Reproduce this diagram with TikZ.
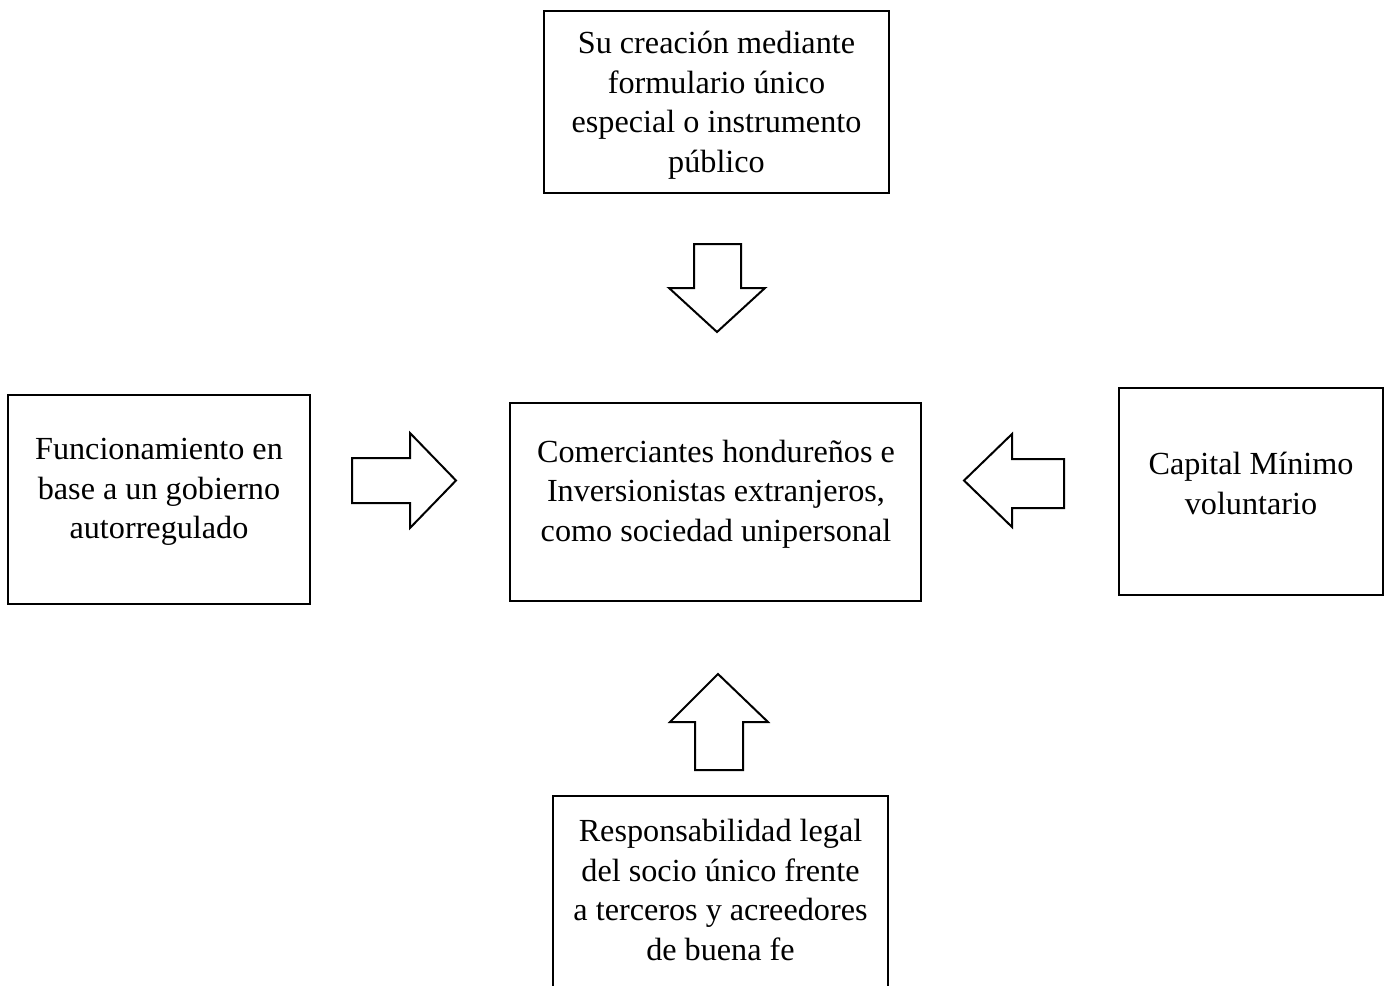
\documentclass[tikz,border=0pt]{standalone}
\usepackage{fontspec}
\setmainfont{Liberation Serif}
\begin{document}
\begin{tikzpicture}[x=1pt,y=-1pt,
  box/.style={draw=black, line width=2pt, rectangle, inner sep=0pt},
  txt/.style={align=center, inner sep=0pt, font=\fontsize{32.2}{39.5}\selectfont},
  barrow/.style={draw=black, line width=2pt, fill=white, line join=miter}]
\clip (0,0) rectangle (1386,985);
\fill[white] (0,0) rectangle (1386,985);
% boxes
\node[box, minimum width=345, minimum height=182] (top) at (716.5,102) {};
\node[txt] (toptxt) at (716.5,105) {Su creación mediante\\formulario único\\especial o instrumento\\público};
\node[box, minimum width=302, minimum height=209] (left) at (159,499.5) {};
\node[txt] (lefttxt) at (159,492) {Funcionamiento en\\base a un gobierno\\autorregulado};
\node[box, minimum width=411, minimum height=198] (center) at (715.5,502) {};
\node[txt] (centertxt) at (716,494) {Comerciantes hondureños e\\Inversionistas extranjeros,\\como sociedad unipersonal};
\node[box, minimum width=264, minimum height=207] (right) at (1251,491.5) {};
\node[txt] (righttxt) at (1251,483.5) {Capital Mínimo\\voluntario};
\node[box, minimum width=335, minimum height=230] (bottom) at (720.5,911) {};
\node[txt] (bottomtxt) at (720.5,890) {Responsabilidad legal\\del socio único frente\\a terceros y acreedores\\de buena fe};
% block arrows
\draw[barrow] (694,244) -- (741,244) -- (741,288) -- (765,288) -- (717,332) -- (669,288) -- (694,288) -- cycle;
\draw[barrow] (352,458) -- (410,458) -- (410,433) -- (456,480.5) -- (410,528) -- (410,503) -- (352,503) -- cycle;
\draw[barrow] (1064,459) -- (1012,459) -- (1012,434) -- (964,480.5) -- (1012,527) -- (1012,508) -- (1064,508) -- cycle;
\draw[barrow] (695,770) -- (695,722) -- (670,722) -- (718,674) -- (768,722) -- (743,722) -- (743,770) -- cycle;
\end{tikzpicture}
\end{document}
